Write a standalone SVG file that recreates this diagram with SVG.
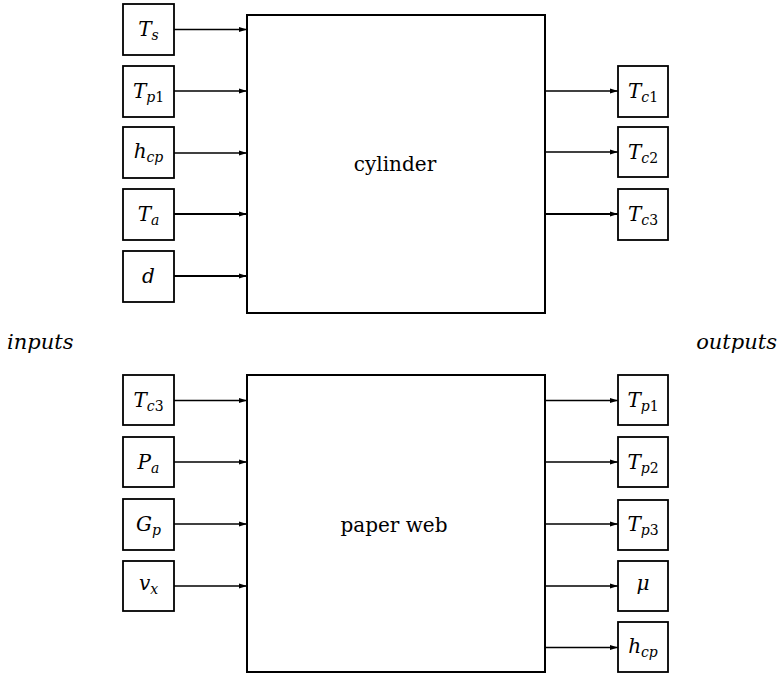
<svg xmlns="http://www.w3.org/2000/svg" width="780" height="675" viewBox="0 0 780 675">
<style>
.box{fill:#fff;stroke:#000;stroke-width:1.8}
.blk{fill:#fff;stroke:#000;stroke-width:2}
.ln{stroke:#000;stroke-width:1.4;fill:none}
.thick{stroke-width:2}
.lbl{font-family:"DejaVu Serif",serif;font-size:20px;font-style:italic;text-anchor:middle;fill:#000}
.sub{font-size:14px}
.rm{font-style:normal}
.ctr{font-family:"DejaVu Serif",serif;font-size:20px;text-anchor:middle;fill:#000}
.side{font-family:"DejaVu Serif",serif;font-size:21px;font-style:italic;fill:#000}
</style>
<defs>
<marker id="ah" markerUnits="userSpaceOnUse" markerWidth="8" markerHeight="6" refX="8" refY="3" orient="auto">
<path d="M0,0.5 L8,3 L0,5.5 z" fill="#000"/>
</marker>
</defs>

<g id="connectors">
<line class="ln" x1="174" y1="29.5" x2="247" y2="29.5" marker-end="url(#ah)"/>
<line class="ln" x1="174" y1="91" x2="247" y2="91" marker-end="url(#ah)"/>
<line class="ln" x1="174" y1="153" x2="247" y2="153" marker-end="url(#ah)"/>
<line class="ln thick" x1="174" y1="214" x2="247" y2="214" marker-end="url(#ah)"/>
<line class="ln thick" x1="174" y1="276" x2="247" y2="276" marker-end="url(#ah)"/>
<line class="ln" x1="545" y1="91" x2="618" y2="91" marker-end="url(#ah)"/>
<line class="ln" x1="545" y1="152" x2="618" y2="152" marker-end="url(#ah)"/>
<line class="ln thick" x1="545" y1="214" x2="618" y2="214" marker-end="url(#ah)"/>
<line class="ln" x1="174" y1="400.5" x2="247" y2="400.5" marker-end="url(#ah)"/>
<line class="ln" x1="174" y1="462" x2="247" y2="462" marker-end="url(#ah)"/>
<line class="ln" x1="174" y1="524" x2="247" y2="524" marker-end="url(#ah)"/>
<line class="ln" x1="174" y1="586" x2="247" y2="586" marker-end="url(#ah)"/>
<line class="ln" x1="545" y1="400.5" x2="618" y2="400.5" marker-end="url(#ah)"/>
<line class="ln" x1="545" y1="462" x2="618" y2="462" marker-end="url(#ah)"/>
<line class="ln" x1="545" y1="524" x2="618" y2="524" marker-end="url(#ah)"/>
<line class="ln" x1="545" y1="586" x2="618" y2="586" marker-end="url(#ah)"/>
<line class="ln" x1="545" y1="647.5" x2="618" y2="647.5" marker-end="url(#ah)"/>
</g>

<g id="cylinder">
<rect class="blk" x="247" y="15" width="298" height="298"/>
<text class="ctr" x="395" y="171">cylinder</text>
</g>
<g id="paperweb">
<rect class="blk" x="247" y="375" width="298" height="297"/>
<text class="ctr" x="394" y="532">paper web</text>
</g>

<g id="in_Ts"><rect class="box" x="123" y="4" width="51" height="51"/><text class="lbl" x="148.5" y="36">T<tspan class="sub" dy="4">s</tspan></text></g>
<g id="in_Tp1"><rect class="box" x="123" y="66" width="51" height="51"/><text class="lbl" x="148.5" y="98">T<tspan class="sub" dy="4">p<tspan class="rm">1</tspan></tspan></text></g>
<g id="in_hcp"><rect class="box" x="123" y="127" width="51" height="51"/><text class="lbl" x="148.5" y="158">h<tspan class="sub" dy="4">cp</tspan></text></g>
<g id="in_Ta"><rect class="box" x="123" y="189" width="51" height="51"/><text class="lbl" x="148.5" y="221">T<tspan class="sub" dy="4">a</tspan></text></g>
<g id="in_d"><rect class="box" x="123" y="251" width="51" height="51"/><text class="lbl" x="148.5" y="283">d</text></g>

<g id="out_Tc1"><rect class="box" x="618" y="66" width="50" height="51"/><text class="lbl" x="643" y="98">T<tspan class="sub" dy="4">c<tspan class="rm">1</tspan></tspan></text></g>
<g id="out_Tc2"><rect class="box" x="618" y="127" width="50" height="50"/><text class="lbl" x="643" y="159">T<tspan class="sub" dy="4">c<tspan class="rm">2</tspan></tspan></text></g>
<g id="out_Tc3"><rect class="box" x="618" y="189" width="50" height="51"/><text class="lbl" x="643" y="221">T<tspan class="sub" dy="4">c<tspan class="rm">3</tspan></tspan></text></g>

<g id="in_Tc3"><rect class="box" x="123" y="375" width="51" height="50"/><text class="lbl" x="148.5" y="407">T<tspan class="sub" dy="4">c<tspan class="rm">3</tspan></tspan></text></g>
<g id="in_Pa"><rect class="box" x="123" y="437" width="51" height="50"/><text class="lbl" x="148.5" y="469">P<tspan class="sub" dy="4">a</tspan></text></g>
<g id="in_Gp"><rect class="box" x="123" y="499" width="51" height="51"/><text class="lbl" x="148.5" y="531">G<tspan class="sub" dy="4">p</tspan></text></g>
<g id="in_vx"><rect class="box" x="123" y="561" width="51" height="50"/><text class="lbl" x="148.5" y="590">v<tspan class="sub" dy="4">x</tspan></text></g>

<g id="out_Tp1"><rect class="box" x="618" y="375" width="50" height="50"/><text class="lbl" x="643" y="407">T<tspan class="sub" dy="4">p<tspan class="rm">1</tspan></tspan></text></g>
<g id="out_Tp2"><rect class="box" x="618" y="437" width="50" height="50"/><text class="lbl" x="643" y="469">T<tspan class="sub" dy="4">p<tspan class="rm">2</tspan></tspan></text></g>
<g id="out_Tp3"><rect class="box" x="618" y="500" width="50" height="50"/><text class="lbl" x="643" y="531">T<tspan class="sub" dy="4">p<tspan class="rm">3</tspan></tspan></text></g>
<g id="out_mu"><rect class="box" x="618" y="561" width="50" height="50"/><text class="lbl" x="643" y="590">μ</text></g>
<g id="out_hcp"><rect class="box" x="618" y="622" width="50" height="50"/><text class="lbl" x="643" y="653">h<tspan class="sub" dy="4">cp</tspan></text></g>

<text class="side" x="7" y="349">inputs</text>
<text class="side" x="777" y="349" text-anchor="end">outputs</text>
</svg>
